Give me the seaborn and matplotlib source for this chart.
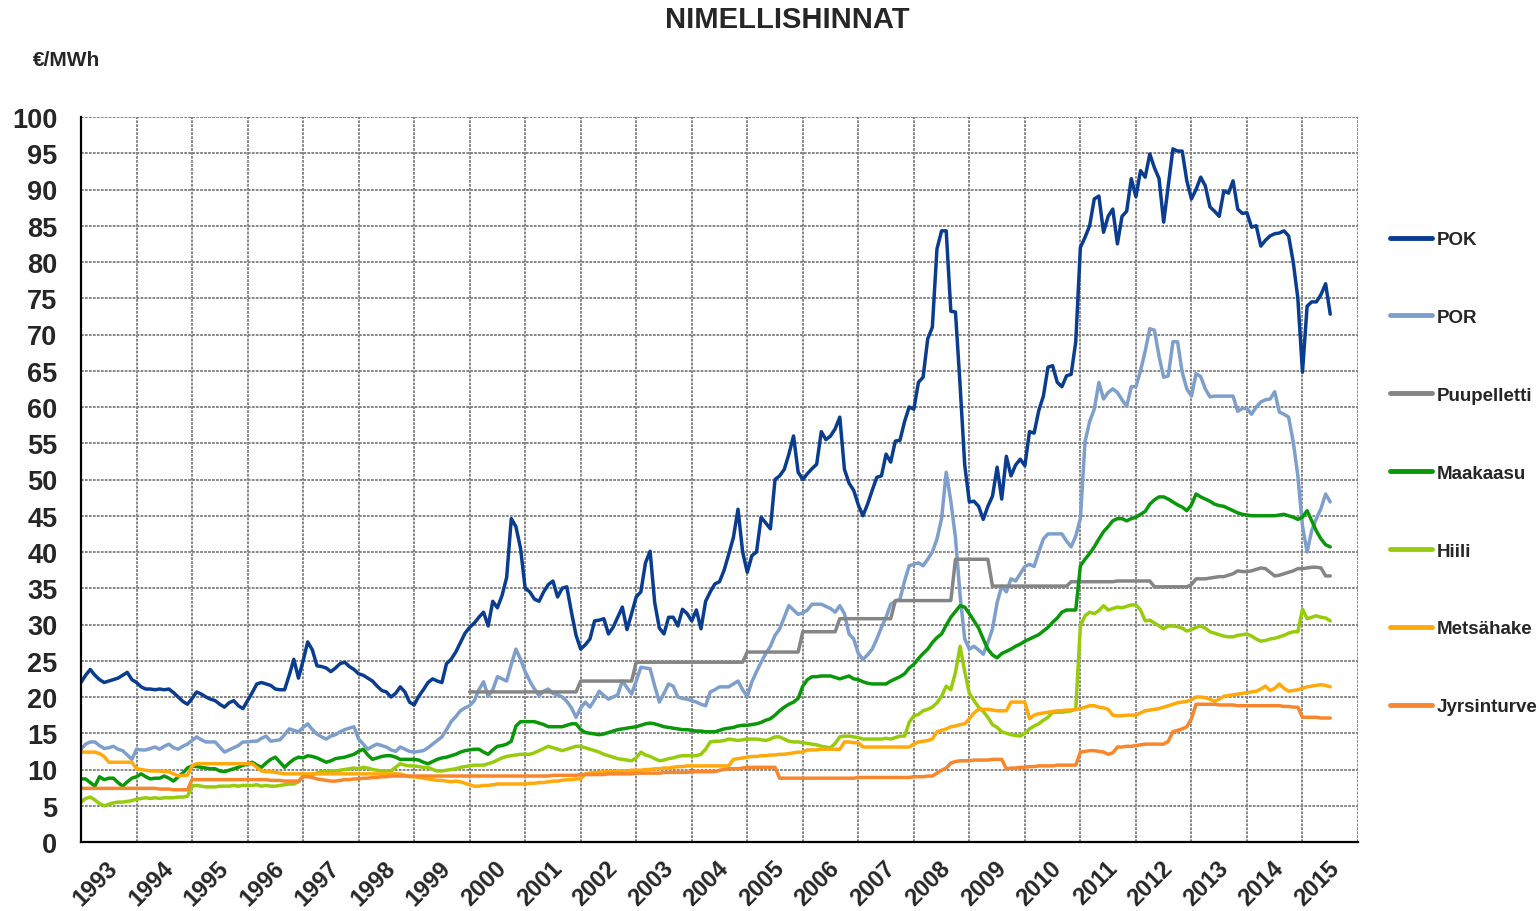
import numpy as np
import pandas as pd
import seaborn as sns
import matplotlib.pyplot as plt

# monthly nominal prices (EUR/MWh), one row per year, Jan 1993 -> Jul 2015
pok = [
    22.0, 23.0, 23.8, 23.0, 22.4, 22.0, 22.2, 22.4, 22.6, 23.0, 23.4, 22.4,  # 1993
    22.0, 21.4, 21.1, 21.1, 21.0, 21.1, 21.0, 21.1, 20.6, 20.0, 19.4, 19.0,  # 1994
    19.8, 20.7, 20.4, 20.0, 19.7, 19.5, 19.0, 18.6, 19.2, 19.5, 18.8, 18.4,  # 1995
    19.5, 20.6, 21.8, 22.0, 21.8, 21.6, 21.1, 21.0, 21.0, 23.0, 25.2, 22.6,  # 1996
    25.0, 27.6, 26.5, 24.3, 24.2, 24.0, 23.5, 24.0, 24.6, 24.8, 24.2, 23.8,  # 1997
    23.2, 23.0, 22.6, 22.2, 21.5, 20.9, 20.7, 20.0, 20.5, 21.4, 20.7, 19.3,  # 1998
    18.9, 20.1, 21.0, 22.0, 22.5, 22.2, 22.0, 24.6, 25.2, 26.2, 27.5, 28.8,  # 1999
    29.6, 30.2, 31.0, 31.7, 29.8, 33.2, 32.3, 34.0, 36.5, 44.6, 43.5, 40.5,  # 2000
    35.0, 34.5, 33.5, 33.2, 34.5, 35.5, 36.0, 33.8, 35.0, 35.2, 31.7, 28.5,  # 2001
    26.6, 27.2, 28.0, 30.5, 30.6, 30.8, 28.7, 29.6, 31.0, 32.4, 29.3, 31.5,  # 2002
    33.8, 34.5, 38.5, 40.1, 33.0, 29.5, 28.7, 31.0, 31.0, 29.8, 32.1, 31.5,  # 2003
    30.5, 32.0, 29.4, 33.2, 34.5, 35.6, 35.9, 37.5, 39.7, 42.0, 45.9, 40.0,  # 2004
    37.2, 39.5, 40.0, 44.8, 44.0, 43.2, 50.0, 50.5, 51.4, 53.5, 56.0, 51.0,  # 2005
    50.0, 50.8, 51.5, 52.1, 56.6, 55.5, 56.0, 57.0, 58.6, 51.4, 49.5, 48.5,  # 2006
    46.5, 45.0, 46.6, 48.5, 50.3, 50.5, 53.5, 52.4, 55.3, 55.4, 58.0, 60.0,  # 2007
    59.7, 63.4, 64.1, 69.4, 71.0, 81.8, 84.3, 84.3, 73.2, 73.1, 63.0, 52.0,  # 2008
    46.9, 47.0, 46.3, 44.5, 46.3, 47.7, 51.7, 47.3, 53.2, 50.5, 52.0, 52.8,  # 2009
    51.9, 56.6, 56.4, 59.5, 61.5, 65.5, 65.7, 63.4, 62.8, 64.3, 64.5, 69.0,  # 2010
    82.0, 83.4, 85.0, 88.7, 89.1, 84.1, 86.3, 87.3, 82.5, 86.3, 87.0, 91.5,  # 2011
    89.0, 92.6, 91.7, 94.9, 93.0, 91.5, 85.5, 90.5, 95.6, 95.3, 95.3, 91.2,  # 2012
    88.7, 90.0, 91.7, 90.5, 87.6, 87.0, 86.3, 89.8, 89.5, 91.2, 87.3, 86.7,  # 2013
    86.8, 84.8, 85.0, 82.2, 83.0, 83.6, 83.9, 84.0, 84.3, 83.6, 80.0, 75.0,  # 2014
    64.8, 73.9, 74.5, 74.5, 75.5, 77.0, 72.8,                                # 2015
]

por = [
    12.8, 13.5, 13.8, 13.8, 13.3, 12.9, 13.0, 13.2, 12.8, 12.6, 12.0, 11.4,
    12.8, 12.7, 12.7, 12.9, 13.1, 12.8, 13.2, 13.5, 13.0, 12.8, 13.2, 13.5,
    14.0, 14.5, 14.1, 13.8, 13.8, 13.8, 13.1, 12.4, 12.7, 13.0, 13.3, 13.8,
    13.8, 13.9, 13.9, 14.3, 14.6, 13.9, 14.0, 14.1, 14.8, 15.6, 15.4, 15.2,
    15.8, 16.3, 15.5, 14.9, 14.5, 14.2, 14.6, 14.8, 15.2, 15.5, 15.7, 15.9,
    14.2, 13.5, 12.8, 13.2, 13.5, 13.3, 13.1, 12.7, 12.5, 13.1, 12.8, 12.5,
    12.4, 12.5, 12.6, 13.0, 13.5, 14.0, 14.5, 15.5, 16.6, 17.3, 18.1, 18.5,
    18.8, 19.5, 21.0, 22.1, 20.1, 21.0, 22.8, 22.5, 22.2, 24.5, 26.6, 25.2,
    23.5, 22.2, 21.1, 20.2, 20.8, 21.1, 20.5, 20.3, 20.0, 19.4, 18.5, 17.2,
    18.5, 19.3, 18.6, 19.6, 20.8, 20.2, 19.7, 20.0, 20.3, 22.2, 21.3, 20.4,
    22.2, 24.1, 24.0, 23.9, 21.5, 19.3, 20.5, 21.8, 21.5, 20.0, 19.8, 19.7,
    19.5, 19.3, 19.0, 18.8, 20.7, 21.0, 21.4, 21.4, 21.4, 21.8, 22.2, 21.0,
    20.1, 22.1, 23.5, 24.8, 26.0, 27.0, 28.5, 29.4, 31.0, 32.6, 32.0, 31.4,
    31.6, 32.0, 32.8, 32.8, 32.8, 32.5, 32.2, 31.7, 32.6, 31.5, 28.7, 28.0,
    26.0, 25.2, 25.8, 26.6, 28.0, 29.6, 31.0, 32.8, 33.2, 33.5, 36.0, 38.1,
    38.3, 38.5, 38.1, 39.0, 40.0, 41.8, 44.6, 51.0, 47.0, 42.0, 34.0, 28.0,
    26.6, 27.0, 26.5, 25.9, 27.5, 29.4, 33.0, 35.3, 34.5, 36.3, 36.0, 37.0,
    38.0, 38.3, 38.0, 40.0, 41.8, 42.5, 42.5, 42.5, 42.5, 41.5, 40.7, 42.2,
    44.6, 55.2, 58.0, 59.7, 63.4, 61.1, 62.0, 62.5, 62.0, 61.0, 60.1, 62.8,
    62.8, 65.0, 67.7, 70.8, 70.6, 67.0, 64.1, 64.3, 69.0, 69.0, 64.8, 62.5,
    61.5, 64.6, 64.2, 62.5, 61.4, 61.5, 61.5, 61.5, 61.5, 61.5, 59.4, 59.8,
    59.8, 59.0, 60.0, 60.7, 61.0, 61.1, 62.1, 59.3, 59.0, 58.6, 55.2, 50.5,
    43.6, 40.0, 43.0, 44.6, 46.0, 48.0, 46.9,
]

# pellets are only reported from Jan 2000 on
puupelletti = [
    20.7, 20.7, 20.7, 20.7, 20.7, 20.7, 20.7, 20.7, 20.7, 20.7, 20.7, 20.7,  # 2000
    20.7, 20.7, 20.7, 20.7, 20.7, 20.7, 20.7, 20.7, 20.7, 20.7, 20.7, 20.7,
    22.2, 22.2, 22.2, 22.2, 22.2, 22.2, 22.2, 22.2, 22.2, 22.2, 22.2, 22.2,
    24.8, 24.8, 24.8, 24.8, 24.8, 24.8, 24.8, 24.8, 24.8, 24.8, 24.8, 24.8,
    24.8, 24.8, 24.8, 24.8, 24.8, 24.8, 24.8, 24.8, 24.8, 24.8, 24.8, 24.8,
    26.2, 26.2, 26.2, 26.2, 26.2, 26.2, 26.2, 26.2, 26.2, 26.2, 26.2, 26.2,
    29.0, 29.0, 29.0, 29.0, 29.0, 29.0, 29.0, 29.0, 30.8, 30.8, 30.8, 30.8,
    30.8, 30.8, 30.8, 30.8, 30.8, 30.8, 30.8, 30.8, 33.3, 33.3, 33.3, 33.3,
    33.3, 33.3, 33.3, 33.3, 33.3, 33.3, 33.3, 33.3, 33.3, 39.0, 39.0, 39.0,
    39.0, 39.0, 39.0, 39.0, 39.0, 35.3, 35.3, 35.3, 35.3, 35.3, 35.3, 35.3,
    35.3, 35.3, 35.3, 35.3, 35.3, 35.3, 35.3, 35.3, 35.3, 35.3, 35.9, 35.9,
    35.9, 35.9, 35.9, 35.9, 35.9, 35.9, 35.9, 35.9, 36.0, 36.0, 36.0, 36.0,
    36.0, 36.0, 36.0, 36.0, 35.2, 35.2, 35.2, 35.2, 35.2, 35.2, 35.2, 35.2,
    35.5, 36.3, 36.3, 36.3, 36.4, 36.5, 36.6, 36.6, 36.8, 37.0, 37.4, 37.3,
    37.3, 37.4, 37.6, 37.8, 37.7, 37.2, 36.7, 36.8, 37.0, 37.2, 37.4, 37.7,
    37.7, 37.8, 37.9, 37.9, 37.8, 36.7, 36.7,
]

maakaasu = [
    8.7, 8.7, 8.2, 7.7, 9.0, 8.6, 8.8, 8.8, 8.2, 7.7, 8.3, 8.8,
    9.0, 9.4, 9.0, 8.7, 8.8, 8.8, 9.1, 8.8, 8.4, 9.0, 9.5, 10.2,
    10.5, 10.4, 10.3, 10.2, 10.1, 10.1, 9.8, 9.7, 9.9, 10.1, 10.3, 10.6,
    10.7, 11.0, 10.6, 10.3, 10.9, 11.4, 11.7, 11.0, 10.3, 10.9, 11.4, 11.7,
    11.6, 11.9, 11.8, 11.6, 11.3, 11.0, 11.2, 11.5, 11.6, 11.7, 11.9, 12.1,
    12.5, 12.8, 12.0, 11.4, 11.6, 11.8, 11.9, 11.9, 11.7, 11.4, 11.4, 11.4,
    11.4, 11.3, 11.0, 10.8, 11.1, 11.4, 11.6, 11.7, 11.9, 12.1, 12.4, 12.6,
    12.7, 12.8, 12.8, 12.4, 12.1, 12.7, 13.2, 13.3, 13.5, 13.9, 16.0, 16.6,
    16.6, 16.6, 16.6, 16.4, 16.2, 15.9, 15.9, 15.9, 15.9, 16.1, 16.3, 16.3,
    15.5, 15.1, 15.0, 14.9, 14.8, 14.9, 15.1, 15.3, 15.5, 15.6, 15.7, 15.8,
    15.9, 16.1, 16.3, 16.4, 16.3, 16.1, 15.9, 15.8, 15.7, 15.6, 15.5, 15.5,
    15.4, 15.3, 15.3, 15.2, 15.2, 15.2, 15.4, 15.6, 15.7, 15.8, 16.0, 16.1,
    16.1, 16.2, 16.3, 16.5, 16.8, 17.0, 17.5, 18.1, 18.6, 19.0, 19.3, 19.8,
    21.5, 22.4, 22.8, 22.8, 22.9, 22.9, 22.9, 22.7, 22.5, 22.7, 22.9, 22.5,
    22.4, 22.1, 21.9, 21.8, 21.8, 21.8, 21.8, 22.2, 22.5, 22.8, 23.2, 24.0,
    24.5, 25.3, 26.0, 26.6, 27.5, 28.2, 28.7, 29.9, 31.0, 31.8, 32.6, 32.4,
    31.5, 30.5, 29.5, 28.0, 26.6, 25.8, 25.4, 26.0, 26.3, 26.6, 27.0, 27.3,
    27.7, 28.0, 28.3, 28.6, 29.1, 29.6, 30.3, 30.9, 31.7, 32.0, 32.0, 32.0,
    38.1, 39.0, 39.8, 40.7, 41.8, 42.8, 43.5, 44.3, 44.6, 44.6, 44.3, 44.6,
    44.8, 45.2, 45.6, 46.6, 47.2, 47.6, 47.6, 47.3, 46.9, 46.5, 46.2, 45.7,
    46.5, 48.0, 47.6, 47.3, 47.0, 46.6, 46.4, 46.3, 46.0, 45.7, 45.4, 45.2,
    45.1, 45.0, 45.0, 45.0, 45.0, 45.0, 45.0, 45.1, 45.2, 45.0, 44.8, 44.5,
    44.8, 45.7, 44.3, 42.9, 41.8, 41.0, 40.7,
]

hiili = [
    5.5, 6.0, 6.2, 5.8, 5.3, 5.0, 5.2, 5.4, 5.5, 5.5, 5.6, 5.7,
    5.9, 6.0, 6.1, 6.0, 6.1, 6.0, 6.1, 6.1, 6.1, 6.2, 6.2, 6.3,
    7.7, 7.8, 7.7, 7.6, 7.6, 7.6, 7.7, 7.7, 7.7, 7.8, 7.7, 7.8,
    7.8, 7.8, 7.9, 7.7, 7.8, 7.7, 7.7, 7.8, 7.9, 8.0, 8.0, 8.3,
    9.1, 9.2, 9.3, 9.5, 9.7, 9.7, 9.8, 9.8, 9.9, 10.0, 10.1, 10.2,
    10.1, 10.3, 10.2, 10.0, 9.9, 9.8, 9.8, 9.8, 10.3, 10.8, 10.6, 10.5,
    10.5, 10.4, 10.3, 10.3, 10.0, 9.8, 9.8, 9.9, 10.0, 10.1, 10.3, 10.4,
    10.5, 10.6, 10.6, 10.6, 10.8, 11.0, 11.3, 11.6, 11.8, 11.9, 12.0, 12.1,
    12.1, 12.1, 12.3, 12.6, 12.9, 13.2, 13.0, 12.8, 12.6, 12.8, 13.0, 13.2,
    13.2, 13.0, 12.8, 12.6, 12.4, 12.1, 11.9, 11.7, 11.5, 11.4, 11.3, 11.2,
    11.6, 12.4, 12.0, 11.8, 11.5, 11.2, 11.3, 11.5, 11.6, 11.8, 11.9, 11.9,
    11.9, 11.9, 12.1, 12.8, 13.8, 13.9, 13.9, 14.0, 14.2, 14.1, 14.0, 14.1,
    14.2, 14.2, 14.2, 14.1, 14.0, 14.2, 14.5, 14.5, 14.2, 13.9, 13.8, 13.8,
    13.7, 13.6, 13.5, 13.4, 13.2, 13.1, 13.0, 13.6, 14.5, 14.6, 14.6, 14.5,
    14.4, 14.2, 14.2, 14.2, 14.2, 14.2, 14.3, 14.2, 14.4, 14.6, 14.6, 16.5,
    17.4, 17.6, 18.1, 18.3, 18.6, 19.2, 20.1, 21.5, 21.0, 23.4, 27.0, 23.5,
    20.5, 19.5, 18.6, 18.0, 17.2, 16.2, 15.8, 15.2, 15.0, 14.8, 14.7, 14.6,
    15.0, 15.6, 16.0, 16.3, 16.8, 17.2, 17.9, 17.9, 17.9, 18.0, 18.1, 18.3,
    29.8, 31.2, 31.7, 31.5, 31.9, 32.6, 32.0, 32.2, 32.4, 32.3, 32.5, 32.7,
    32.7, 32.0, 30.5, 30.6, 30.2, 29.8, 29.4, 29.8, 29.8, 29.7, 29.5, 29.1,
    29.3, 29.6, 29.8, 29.5, 29.0, 28.8, 28.6, 28.4, 28.3, 28.3, 28.5, 28.6,
    28.7, 28.4, 28.0, 27.7, 27.8, 28.0, 28.1, 28.3, 28.5, 28.8, 29.0, 29.0,
    32.1, 30.8, 31.0, 31.2, 31.0, 30.9, 30.5,
]

metsahake = [
    12.4, 12.4, 12.4, 12.4, 12.2, 11.8, 11.0, 11.0, 11.0, 11.0, 11.0, 11.0,
    10.1, 10.0, 9.9, 9.8, 9.8, 9.8, 9.7, 9.7, 9.4, 9.1, 9.2, 9.2,
    10.5, 10.8, 10.8, 10.8, 10.8, 10.8, 10.8, 10.8, 10.8, 10.8, 10.8, 10.8,
    10.8, 10.8, 10.3, 9.8, 9.7, 9.7, 9.6, 9.5, 9.4, 9.4, 9.4, 9.4,
    9.4, 9.4, 9.4, 9.4, 9.4, 9.4, 9.4, 9.4, 9.4, 9.4, 9.4, 9.4,
    9.4, 9.4, 9.4, 9.4, 9.4, 9.4, 9.4, 9.4, 9.4, 9.4, 9.2, 9.0,
    9.0, 8.9, 8.8, 8.7, 8.6, 8.5, 8.5, 8.4, 8.3, 8.4, 8.3, 8.1,
    7.9, 7.7, 7.7, 7.8, 7.8, 7.9, 8.0, 8.0, 8.0, 8.0, 8.0, 8.0,
    8.0, 8.1, 8.1, 8.2, 8.2, 8.3, 8.4, 8.4, 8.5, 8.6, 8.6, 8.7,
    8.7, 9.4, 9.5, 9.6, 9.6, 9.7, 9.7, 9.7, 9.8, 9.8, 9.8, 9.9,
    9.9, 9.9, 10.0, 10.0, 10.1, 10.1, 10.2, 10.2, 10.3, 10.4, 10.4, 10.5,
    10.5, 10.5, 10.5, 10.5, 10.5, 10.5, 10.5, 10.5, 10.5, 11.4, 11.5, 11.6,
    11.7, 11.8, 11.8, 11.9, 11.9, 12.0, 12.0, 12.1, 12.1, 12.2, 12.3, 12.4,
    12.4, 12.7, 12.7, 12.7, 12.8, 12.8, 12.8, 12.8, 12.8, 13.8, 13.8, 13.7,
    13.7, 13.1, 13.1, 13.1, 13.1, 13.1, 13.1, 13.1, 13.1, 13.1, 13.1, 13.1,
    13.5, 13.8, 13.9, 14.0, 14.2, 15.2, 15.4, 15.6, 15.9, 16.0, 16.2, 16.3,
    17.0, 17.8, 18.3, 18.3, 18.3, 18.2, 18.1, 18.1, 18.1, 19.3, 19.3, 19.3,
    19.3, 17.0, 17.5, 17.7, 17.8, 17.9, 18.0, 18.1, 18.1, 18.2, 18.2, 18.3,
    18.4, 18.6, 18.8, 18.8, 18.6, 18.5, 18.3, 17.5, 17.4, 17.4, 17.5, 17.5,
    17.5, 17.8, 18.1, 18.2, 18.3, 18.4, 18.6, 18.8, 19.0, 19.2, 19.3, 19.4,
    19.6, 20.0, 20.0, 19.9, 19.7, 19.4, 19.7, 20.1, 20.2, 20.3, 20.4, 20.5,
    20.6, 20.7, 20.8, 21.1, 21.5, 20.9, 21.2, 21.8, 21.2, 20.8, 20.9, 21.0,
    21.2, 21.4, 21.5, 21.6, 21.7, 21.6, 21.4,
]

jyrsinturve = [
    7.4, 7.4, 7.4, 7.4, 7.4, 7.4, 7.4, 7.4, 7.4, 7.4, 7.4, 7.4,
    7.4, 7.4, 7.4, 7.4, 7.4, 7.3, 7.3, 7.3, 7.2, 7.2, 7.2, 7.2,
    8.6, 8.6, 8.6, 8.6, 8.6, 8.6, 8.6, 8.6, 8.6, 8.6, 8.6, 8.6,
    8.6, 8.6, 8.6, 8.6, 8.6, 8.5, 8.5, 8.5, 8.4, 8.4, 8.4, 8.4,
    9.0, 9.0, 8.9, 8.7, 8.6, 8.5, 8.4, 8.4, 8.5, 8.6, 8.6, 8.7,
    8.7, 8.8, 8.8, 8.9, 8.9, 9.0, 9.0, 9.1, 9.1, 9.1, 9.1, 9.1,
    9.1, 9.1, 9.1, 9.1, 9.1, 9.1, 9.1, 9.1, 9.1, 9.1, 9.1, 9.1,
    9.1, 9.1, 9.1, 9.1, 9.1, 9.1, 9.1, 9.1, 9.1, 9.1, 9.1, 9.1,
    9.1, 9.1, 9.1, 9.1, 9.1, 9.1, 9.2, 9.2, 9.2, 9.2, 9.2, 9.2,
    9.3, 9.3, 9.3, 9.3, 9.3, 9.3, 9.4, 9.4, 9.4, 9.4, 9.4, 9.4,
    9.5, 9.5, 9.5, 9.5, 9.5, 9.5, 9.6, 9.6, 9.6, 9.6, 9.6, 9.6,
    9.7, 9.7, 9.7, 9.7, 9.7, 9.7, 9.9, 10.0, 10.1, 10.1, 10.1, 10.2,
    10.3, 10.3, 10.3, 10.3, 10.3, 10.3, 10.3, 8.8, 8.8, 8.8, 8.8, 8.8,
    8.8, 8.8, 8.8, 8.8, 8.8, 8.8, 8.8, 8.8, 8.8, 8.8, 8.8, 8.8,
    8.9, 8.9, 8.9, 8.9, 8.9, 8.9, 8.9, 8.9, 8.9, 8.9, 8.9, 8.9,
    9.0, 9.0, 9.0, 9.1, 9.1, 9.5, 9.9, 10.2, 10.9, 11.1, 11.2, 11.2,
    11.2, 11.3, 11.3, 11.3, 11.3, 11.4, 11.4, 11.4, 10.1, 10.2, 10.2, 10.3,
    10.3, 10.4, 10.4, 10.5, 10.5, 10.5, 10.5, 10.6, 10.6, 10.6, 10.6, 10.6,
    12.4, 12.5, 12.6, 12.6, 12.5, 12.4, 12.1, 12.3, 13.1, 13.1, 13.2, 13.2,
    13.3, 13.4, 13.5, 13.5, 13.5, 13.5, 13.5, 13.9, 15.2, 15.4, 15.6, 15.9,
    17.0, 19.0, 19.0, 19.0, 19.0, 19.0, 18.9, 18.9, 18.9, 18.9, 18.8, 18.8,
    18.8, 18.8, 18.8, 18.8, 18.8, 18.8, 18.8, 18.8, 18.7, 18.7, 18.6, 18.6,
    17.2, 17.2, 17.2, 17.2, 17.1, 17.1, 17.1,
]

series = ['POK', 'POR', 'Puupelletti', 'Maakaasu', 'Hiili', 'Metsähake', 'Jyrsinturve']
values = [pok, por, puupelletti, maakaasu, hiili, metsahake, jyrsinturve]
starts = ['1993-01', '1993-01', '2000-01', '1993-01', '1993-01', '1993-01', '1993-01']
colors = ['#0a3d8f', '#7e9fcb', '#858585', '#0a970a', '#96cc0c', '#ffa90a', '#f7862c']
years = [str(y) for y in range(1993, 2016)]

frames = []
for name, vals, start in zip(series, values, starts):
    d = pd.date_range(start, periods=len(vals), freq='MS')
    frames.append(pd.DataFrame({'year': d.year + (d.month - 1) / 12,
                                'price': vals, 'series': name}))
df = pd.concat(frames, ignore_index=True)

sns.set_style('white')
plt.rcParams['font.family'] = ['Liberation Sans', 'DejaVu Sans']

W, H = 1539, 912
fig = plt.figure(figsize=(W / 100, H / 100), dpi=100)
ax = fig.add_axes([81 / W, 1 - 843 / H, (1358 - 81) / W, (843 - 118) / H])

sns.lineplot(data=df, x='year', y='price', hue='series', hue_order=series,
             palette=dict(zip(series, colors)), linewidth=2.5, estimator=None, ax=ax)

ax.set_xlim(1993, 2016)
ax.set_ylim(0, 100)
ax.set_xlabel('')
ax.set_ylabel('')

# year boundaries carry the grid, labels sit in the middle of each year
ax.set_xticks(range(1993, 2017))
ax.set_xticklabels([])
ax.set_xticks(np.arange(1993, 2016) + 0.45, minor=True)
ax.set_xticklabels(years, minor=True, rotation=45, ha='right', va='top',
                   rotation_mode='anchor', fontsize=17, fontweight='bold')
ax.tick_params(axis='x', which='major', direction='out', length=7, width=1.3, color='black')
ax.tick_params(axis='x', which='minor', length=0, pad=10)

ax.set_yticks(range(0, 101, 5))
ax.tick_params(axis='y', direction='out', length=6, width=1.3, color='black',
               labelsize=19.5, pad=11)
for lbl in ax.get_yticklabels():
    lbl.set_fontweight('bold')

ax.grid(True, which='major', color='#7d7d7d', linestyle=(0, (1.5, 0.7)), linewidth=1.3)
ax.set_axisbelow(True)
for s in ['top', 'right']:
    ax.spines[s].set_visible(False)
for s in ['left', 'bottom']:
    ax.spines[s].set_color('black')
    ax.spines[s].set_linewidth(1.6)

handles, labels = ax.get_legend_handles_labels()
leg = ax.legend(handles, labels, loc='upper left', bbox_to_anchor=(1390 / W, 1 - 232 / H),
                bbox_transform=fig.transFigure, frameon=False,
                prop={'size': 13.5, 'weight': 'bold'}, handlelength=2.25,
                handletextpad=0.25, labelspacing=3.24, borderpad=0, borderaxespad=0)
for line in leg.get_lines():
    line.set_linewidth(3.5)

fig.text(787 / W, 1 - 20 / H, 'NIMELLISHINNAT', ha='center', va='center',
         fontsize=21, fontweight='bold')
fig.text(33 / W, 1 - 60 / H, '€/MWh', ha='left', va='center',
         fontsize=15, fontweight='bold')

fig.savefig('out.png', dpi=100)
